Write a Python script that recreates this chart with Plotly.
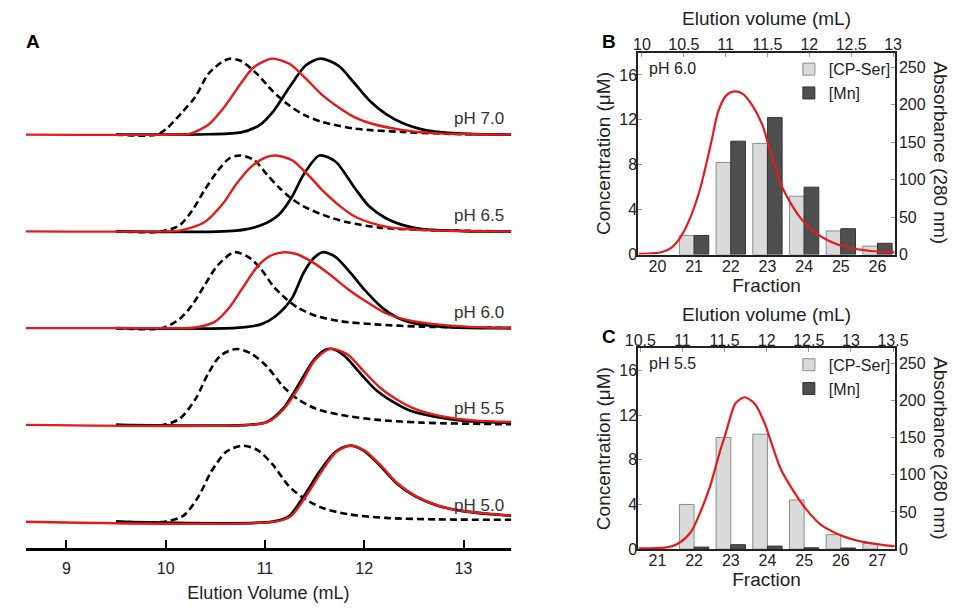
import plotly.graph_objects as go

W, H = 966, 614
FONT = "Liberation Sans, Arial, sans-serif"
INK = "#222222"
RED = "#e41a1c"


def px(x):
    return x / W


def py(y):
    return 1 - y / H


# ---------------- Panel A: size-exclusion traces, normalised to peak = 1 ----------------
# (elution volume mL, normalised A280)
ph70_dashed = [(9.50, 0), (9.91, 0.0), (10.01, 0.08), (10.17, 0.30), (10.30, 0.50), (10.43, 0.80),
               (10.56, 0.95), (10.645, 1.0), (10.76, 0.97), (10.92, 0.80), (11.08, 0.57), (11.25, 0.38),
               (11.41, 0.25), (11.57, 0.17), (11.90, 0.08), (12.39, 0.035), (12.88, 0.01), (13.48, 0.0)]
ph70_red = [(8.59, 0), (10.10, 0), (10.24, 0.01), (10.43, 0.13), (10.60, 0.38), (10.76, 0.68),
            (10.89, 0.89), (11.07, 1.0), (11.25, 0.93), (11.41, 0.74), (11.57, 0.53), (11.74, 0.36),
            (11.90, 0.23), (12.06, 0.15), (12.39, 0.06), (12.71, 0.02), (13.10, 0.005), (13.48, 0)]
ph70_black = [(9.50, 0), (10.43, 0.005), (10.76, 0.03), (10.95, 0.13), (11.08, 0.30), (11.25, 0.63),
              (11.41, 0.91), (11.56, 1.0), (11.74, 0.91), (11.90, 0.68), (12.06, 0.44), (12.22, 0.27),
              (12.39, 0.15), (12.55, 0.08), (12.71, 0.04), (13.04, 0.01), (13.48, 0)]

ph65_dashed = [(9.50, 0), (9.96, 0), (10.14, 0.08), (10.27, 0.28), (10.39, 0.54), (10.52, 0.79),
               (10.64, 0.96), (10.75, 1.0), (10.89, 0.94), (11.02, 0.75), (11.14, 0.58), (11.27, 0.43),
               (11.39, 0.33), (11.58, 0.22), (11.83, 0.12), (12.15, 0.05), (12.58, 0.02), (13.48, 0)]
ph65_red = [(8.59, 0), (10.00, 0), (10.14, 0.01), (10.39, 0.12), (10.58, 0.37), (10.71, 0.62),
            (10.86, 0.85), (11.02, 0.98), (11.11, 1.0), (11.27, 0.94), (11.43, 0.75), (11.58, 0.54),
            (11.74, 0.35), (11.90, 0.20), (12.05, 0.12), (12.27, 0.05), (12.58, 0.02), (13.00, 0.005),
            (13.48, 0)]
ph65_black = [(9.50, 0), (10.71, 0.01), (10.96, 0.08), (11.14, 0.22), (11.27, 0.45), (11.39, 0.75),
              (11.55, 1.0), (11.71, 0.92), (11.90, 0.58), (12.05, 0.33), (12.21, 0.18), (12.40, 0.08),
              (12.58, 0.03), (13.00, 0.005), (13.48, 0)]

ph60_dashed = [(9.50, 0), (9.96, 0), (10.14, 0.12), (10.27, 0.31), (10.39, 0.56), (10.52, 0.82),
               (10.69, 1.0), (10.83, 0.94), (10.96, 0.78), (11.08, 0.56), (11.21, 0.39), (11.33, 0.27),
               (11.52, 0.16), (11.77, 0.09), (12.11, 0.05), (12.58, 0.02), (13.36, 0.005), (13.48, 0)]
ph60_red = [(8.59, 0), (10.10, 0), (10.27, 0.005), (10.49, 0.08), (10.64, 0.27), (10.77, 0.52),
            (10.93, 0.82), (11.05, 0.95), (11.19, 1.0), (11.33, 0.97), (11.49, 0.86), (11.65, 0.71),
            (11.83, 0.52), (12.02, 0.35), (12.21, 0.20), (12.43, 0.11), (12.74, 0.05), (13.21, 0.01),
            (13.48, 0.005)]
ph60_black = [(9.50, 0), (10.71, 0.005), (10.96, 0.05), (11.11, 0.16), (11.27, 0.39), (11.39, 0.73),
              (11.49, 0.92), (11.58, 1.0), (11.71, 0.94), (11.86, 0.73), (12.02, 0.48), (12.18, 0.27),
              (12.33, 0.14), (12.52, 0.06), (12.90, 0.01), (13.48, 0)]

ph55_dashed = [(9.50, 0), (9.97, 0), (10.14, 0.08), (10.30, 0.34), (10.43, 0.68), (10.55, 0.91),
               (10.71, 1.0), (10.86, 0.94), (11.02, 0.77), (11.18, 0.51), (11.33, 0.34), (11.52, 0.21),
               (11.77, 0.13), (12.11, 0.07), (12.58, 0.03), (13.36, 0.01), (13.48, 0.01)]
ph55_red = [(8.59, 0), (10.85, 0), (11.03, 0.04), (11.19, 0.21), (11.35, 0.51), (11.50, 0.85),
            (11.63, 0.99), (11.69, 1.0), (11.83, 0.93), (12.00, 0.70), (12.16, 0.49), (12.32, 0.34),
            (12.51, 0.21), (12.76, 0.12), (13.10, 0.06), (13.48, 0.04)]
ph55_black = [(9.50, 0), (10.83, 0), (11.02, 0.04), (11.18, 0.21), (11.33, 0.51), (11.49, 0.85),
              (11.61, 0.99), (11.68, 1.0), (11.80, 0.91), (11.96, 0.68), (12.11, 0.47), (12.27, 0.32),
              (12.46, 0.19), (12.71, 0.11), (13.05, 0.05), (13.48, 0.03)]

ph50_dashed = [(9.50, 0), (9.99, 0), (10.18, 0.08), (10.33, 0.33), (10.46, 0.66), (10.61, 0.92),
               (10.77, 1.0), (10.93, 0.94), (11.08, 0.75), (11.24, 0.47), (11.39, 0.31), (11.58, 0.18),
               (11.83, 0.10), (12.21, 0.05), (12.74, 0.03), (13.48, 0.025)]
ph50_red = [(8.59, 0), (11.10, 0), (11.26, 0.07), (11.41, 0.33), (11.57, 0.66), (11.72, 0.92),
            (11.86, 1.0), (12.00, 0.94), (12.16, 0.75), (12.34, 0.50), (12.53, 0.33), (12.75, 0.21),
            (13.00, 0.14), (13.28, 0.10), (13.48, 0.08)]
ph50_black = [(9.50, 0), (11.08, 0), (11.24, 0.07), (11.39, 0.33), (11.55, 0.66), (11.71, 0.92),
              (11.85, 1.0), (11.99, 0.94), (12.15, 0.75), (12.33, 0.50), (12.52, 0.33), (12.74, 0.21),
              (12.99, 0.14), (13.27, 0.10), (13.48, 0.08)]

ph_labels = ["pH 7.0", "pH 6.5", "pH 6.0", "pH 5.5", "pH 5.0"]
ph_traces = [
    (ph70_dashed, ph70_black, ph70_red),
    (ph65_dashed, ph65_black, ph65_red),
    (ph60_dashed, ph60_black, ph60_red),
    (ph55_dashed, ph55_black, ph55_red),
    (ph50_dashed, ph50_black, ph50_red),
]

# ---------------- Panel B: pH 6.0 fractions ----------------
fraction_b = [20, 21, 22, 23, 24, 25, 26]
cpser_b = [None, 1.7, 8.2, 9.9, 5.2, 2.1, 0.75]
mn_b = [None, 1.7, 10.1, 12.2, 6.0, 2.3, 1.0]
volume_b = [9.96, 9.98, 10.23, 10.35, 10.465, 10.58, 10.70, 10.83, 10.91, 11.01, 11.105, 11.20,
            11.32, 11.44, 11.51, 11.66, 11.78, 11.90, 12.05, 12.25, 12.44, 12.71, 13.00, 13.02]
a280_b = [1, 1, 3, 9, 24, 50, 90, 151, 191, 213, 218, 215, 199, 173, 147, 94, 68, 48, 31, 17.5,
          10, 5, 3, 3]

# ---------------- Panel C: pH 5.5 fractions ----------------
fraction_c = [21, 22, 23, 24, 25, 26, 27]
cpser_c = [None, 4.0, 10.0, 10.3, 4.4, 1.3, 0.5]
mn_c = [None, 0.18, 0.4, 0.27, 0.12, 0.1, None]
volume_c = [10.48, 10.50, 10.79, 10.94, 11.10, 11.21, 11.33, 11.44, 11.52, 11.56, 11.63, 11.74,
            11.86, 11.98, 12.04, 12.17, 12.33, 12.48, 12.63, 12.87, 13.13, 13.50, 13.52]
a280_c = [1, 1, 2, 7, 23, 49, 85, 129, 158, 174, 196, 204, 195, 168, 148, 107, 76, 52, 34, 19,
          10, 4, 4]

fig = go.Figure()

# stacked chromatograms: spacing between baselines in peak-height units
STEP = 1.274
for i, (dashed, black, red) in enumerate(ph_traces):
    off = (4 - i) * STEP
    for pts, line in [
        (dashed, dict(color="black", width=2.6, dash="7px,4px")),
        (black, dict(color="black", width=2.7)),
        (red, dict(color=RED, width=2.4)),
    ]:
        fig.add_trace(go.Scatter(
            x=[p[0] for p in pts], y=[p[1] + off for p in pts],
            mode="lines", line=dict(shape="spline", smoothing=0.8, **line),
            xaxis="x", yaxis="y", showlegend=False, hoverinfo="skip"))
    fig.add_annotation(text=ph_labels[i], xref="paper", yref="y", x=px(507), y=off + 0.21,
                       xanchor="right", yanchor="middle", showarrow=False,
                       font=dict(size=17, color="#333333"))

LIGHT = "#d9dbdb"
DARK = "#4f4f4f"


def add_fraction_panel(frac, cpser, mn, vol, a280, xa, xa_top, ya, ya_right, legend):
    fig.add_trace(go.Bar(x=frac, y=cpser, name="[CP-Ser]", xaxis=xa, yaxis=ya,
                         marker=dict(color=LIGHT, line=dict(color="#8c8c8c", width=1)),
                         legend=legend))
    fig.add_trace(go.Bar(x=frac, y=mn, name="[Mn]", xaxis=xa, yaxis=ya,
                         marker=dict(color=DARK, line=dict(color="#333333", width=1)),
                         legend=legend))
    fig.add_trace(go.Scatter(x=vol, y=a280, xaxis=xa_top, yaxis=ya_right, mode="lines",
                             line=dict(color=RED, width=2.2, shape="spline", smoothing=0.8),
                             showlegend=False, hoverinfo="skip"))


add_fraction_panel(fraction_b, cpser_b, mn_b, volume_b, a280_b, "x2", "x3", "y2", "y3", "legend")
add_fraction_panel(fraction_c, cpser_c, mn_c, volume_c, a280_c, "x4", "x5", "y4", "y5", "legend2")

frame = dict(showline=True, linecolor=INK, linewidth=2, showgrid=False, zeroline=False)
tickf = dict(size=16, color=INK, family=FONT)
titf = dict(size=19, color=INK, family=FONT)

BX = [px(643), px(907)]
BY = [py(258.3), py(53.3)]
CY = [py(557.3), py(353.3)]

legend_style = dict(xanchor="left", yanchor="top", bgcolor="rgba(0,0,0,0)",
                    font=dict(size=16, color=INK), itemwidth=30, tracegroupgap=0)

layout = dict(
    width=W, height=H, margin=dict(l=0, r=0, t=0, b=0),
    paper_bgcolor="white", plot_bgcolor="rgba(0,0,0,0)",
    font=dict(family=FONT, color=INK),
    barmode="group", bargap=0.2, bargroupgap=0,
    xaxis=dict(domain=[px(12), px(512)], range=[8.59, 13.48], anchor="y",
               showline=True, linecolor="black", linewidth=2.5, showgrid=False, zeroline=False,
               ticks="inside", ticklen=9, tickwidth=2, tickcolor="black",
               tickvals=[9, 10, 11, 12, 13], tickfont=tickf, ticklabelstandoff=4,
               title=dict(text="Elution Volume (mL)", font=dict(size=18, color=INK), standoff=11)),
    yaxis=dict(domain=[py(556.5), py(40)], range=[-0.351, 6.35], visible=False, anchor="x"),
    legend=dict(x=px(798), y=py(53), **legend_style),
    legend2=dict(x=px(798), y=py(353), **legend_style),
)

for xa, xt, ya, yr, ydom, frac_rng, vol_rng, volticks, fracticks in [
    ("xaxis2", "xaxis3", "yaxis2", "yaxis3", BY, [19.48, 26.47], [9.957, 13.02],
     [10, 10.5, 11, 11.5, 12, 12.5, 13], list(range(20, 27))),
    ("xaxis4", "xaxis5", "yaxis4", "yaxis5", CY, [20.48, 27.47], [10.477, 13.52],
     [10.5, 11, 11.5, 12, 12.5, 13, 13.5], list(range(21, 28))),
]:
    n = xa[5:]
    layout[xa] = dict(domain=BX, anchor="y" + n, range=frac_rng, tickvals=fracticks,
                      ticks="", tickfont=tickf, ticklabelstandoff=-4,
                      title=dict(text="Fraction", font=titf, standoff=4), **frame)
    layout[xt] = dict(overlaying="x" + n, side="top", anchor="y" + n, range=vol_rng,
                      tickvals=volticks, ticks="inside", ticklen=4, tickcolor="#9a9a9a",
                      tickfont=tickf, ticklabelstandoff=-6,
                      title=dict(text="Elution volume (mL)", font=titf, standoff=5), **frame)
    layout[ya] = dict(domain=ydom, anchor="x" + n, range=[0, 18], tickvals=[0, 4, 8, 12, 16],
                      ticks="inside", ticklen=4, tickcolor="#9a9a9a", tickfont=tickf,
                      ticklabelstandoff=-4,
                      title=dict(text="Concentration (μM)", font=titf, standoff=4), **frame)
    layout[yr] = dict(overlaying="y" + n, side="right", anchor="x" + n, range=[0, 270],
                      tickvals=[0, 50, 100, 150, 200, 250], ticks="inside", ticklen=4,
                      tickcolor="#9a9a9a", tickfont=tickf, ticklabelstandoff=-1, **frame)

fig.update_layout(**layout)

# panel letters, pH captions and right-hand axis titles
for txt, x, y in [("A", 10, 42), ("B", 603, 42), ("C", 603, 341)]:
    fig.add_annotation(text=f"<b>{txt}</b>", xref="paper", yref="paper", x=px(x), y=py(y),
                       xanchor="left", yanchor="middle", showarrow=False,
                       font=dict(size=19, color="black"))
for txt, y in [("pH 6.0", 70), ("pH 5.5", 369)]:
    fig.add_annotation(text=txt, xref="paper", yref="paper", x=px(652), y=py(y),
                       xanchor="left", yanchor="middle", showarrow=False,
                       font=dict(size=16, color=INK))
for y in [155, 455]:
    fig.add_annotation(text="Absorbance (280 nm)", xref="paper", yref="paper", x=px(954), y=py(y),
                       xanchor="center", yanchor="middle", textangle=90, showarrow=False,
                       font=titf)

fig.write_html("out.html")
